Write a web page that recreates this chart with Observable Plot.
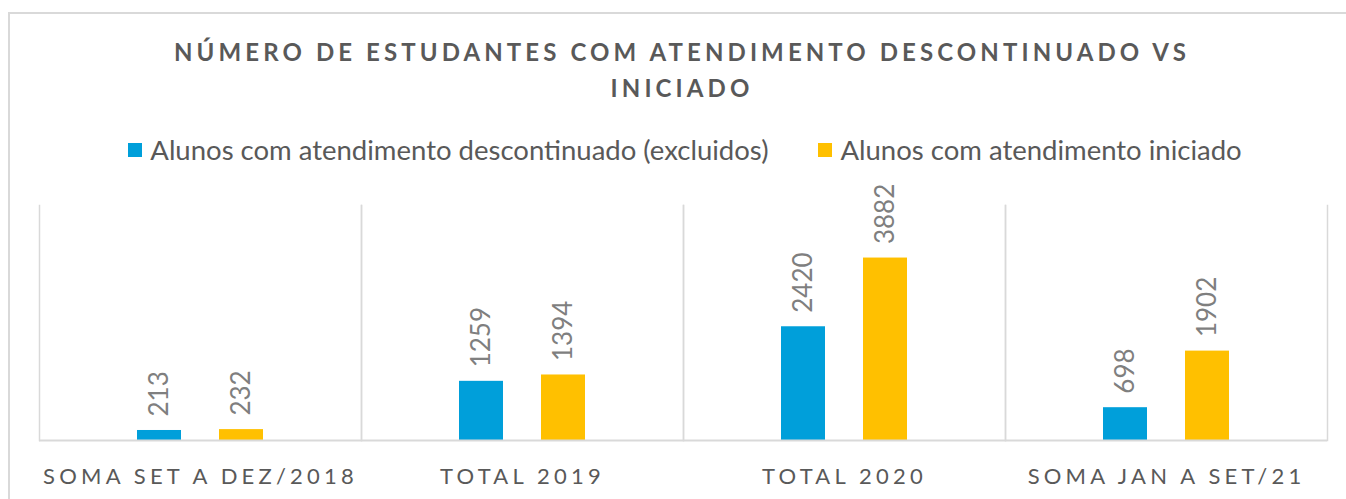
<!DOCTYPE html>
<html>
<head>
<meta charset="utf-8">
<script src="https://cdn.jsdelivr.net/npm/d3@7"></script>
<script src="https://cdn.jsdelivr.net/npm/@observablehq/plot@0.6"></script>
<style>
  html, body { margin: 0; padding: 0; background: #fff; }
  body { width: 1346px; height: 499px; overflow: hidden; position: relative; font-family: Lato, sans-serif; }
  #box { position: absolute; left: 8px; top: 12px; width: 1400px; height: 600px; border: 2px solid #d9d9d9; box-sizing: border-box; }
  #title { position: absolute; left: 0; width: 1364px; top: 34px; text-align: center; font-size: 24px; font-weight: bold; letter-spacing: 4.1px; color: #595959; line-height: 36px; }
  #legend { position: absolute; left: 0; width: 1370px; top: 133px; display: flex; justify-content: center; align-items: center; font-size: 27.5px; color: #595959; }
  .item { display: flex; align-items: center; margin: 0 25px; }
  .sw { width: 14px; height: 14px; margin-right: 8px; display: inline-block; }
  #chart { position: absolute; left: 0; top: 180px; }
  #chart g[aria-label^="fx-axis"] text { letter-spacing: 4.2px; }
</style>
</head>
<body>
<div id="box"></div>
<div id="title">NÚMERO DE ESTUDANTES COM ATENDIMENTO DESCONTINUADO VS<br>INICIADO</div>
<div id="legend"></div>
<div id="chart"></div>
<script>
const categories = ["SOMA SET A DEZ/2018", "TOTAL 2019", "TOTAL 2020", "SOMA JAN A SET/21"];
const seriesNames = ["Alunos com atendimento descontinuado (excluidos)", "Alunos com atendimento iniciado"];
const descontinuado = [213, 1259, 2420, 698];
const iniciado = [232, 1394, 3882, 1902];
const colors = ["#009FDA", "#FFC000"];

const data = categories.flatMap((c, i) => [
  {category: c, series: seriesNames[0], value: descontinuado[i]},
  {category: c, series: seriesNames[1], value: iniciado[i]}
]);

const legend = document.getElementById("legend");
seriesNames.forEach((s, i) => {
  const it = document.createElement("div");
  it.className = "item";
  const sw = document.createElement("span");
  sw.className = "sw";
  sw.style.background = colors[i];
  it.appendChild(sw);
  it.appendChild(document.createTextNode(s));
  legend.appendChild(it);
});

const chart = Plot.plot({
  width: 1346,
  height: 319,
  marginTop: 25,
  marginBottom: 59,
  marginLeft: 38,
  marginRight: 19,
  style: {fontFamily: "Lato, sans-serif", color: "#595959", background: "transparent"},
  fx: {domain: categories, padding: 0, label: null},
  x: {domain: seriesNames, paddingInner: 0.46, paddingOuter: 1.17, axis: null},
  y: {domain: [0, 5000], axis: null},
  color: {domain: seriesNames, range: colors},
  marks: [
    Plot.frame({anchor: "left", stroke: "#d9d9d9", strokeWidth: 1.5}),
    Plot.frame({anchor: "right", stroke: "#d9d9d9", strokeWidth: 1.5}),
    Plot.barY(data, {fx: "category", x: "series", y: "value", fill: "series"}),
    Plot.text(data, {fx: "category", x: "series", y: "value", text: d => String(d.value), rotate: -90, textAnchor: "start", dy: -14, fontSize: 26, fill: "#7f7f7f"}),
    Plot.ruleY([0], {stroke: "#d9d9d9", strokeWidth: 2}),
    Plot.axisFx({anchor: "bottom", tickSize: 0, tickPadding: 28, fontSize: 22, label: null})
  ]
});
document.getElementById("chart").appendChild(chart);
</script>
</body>
</html>
